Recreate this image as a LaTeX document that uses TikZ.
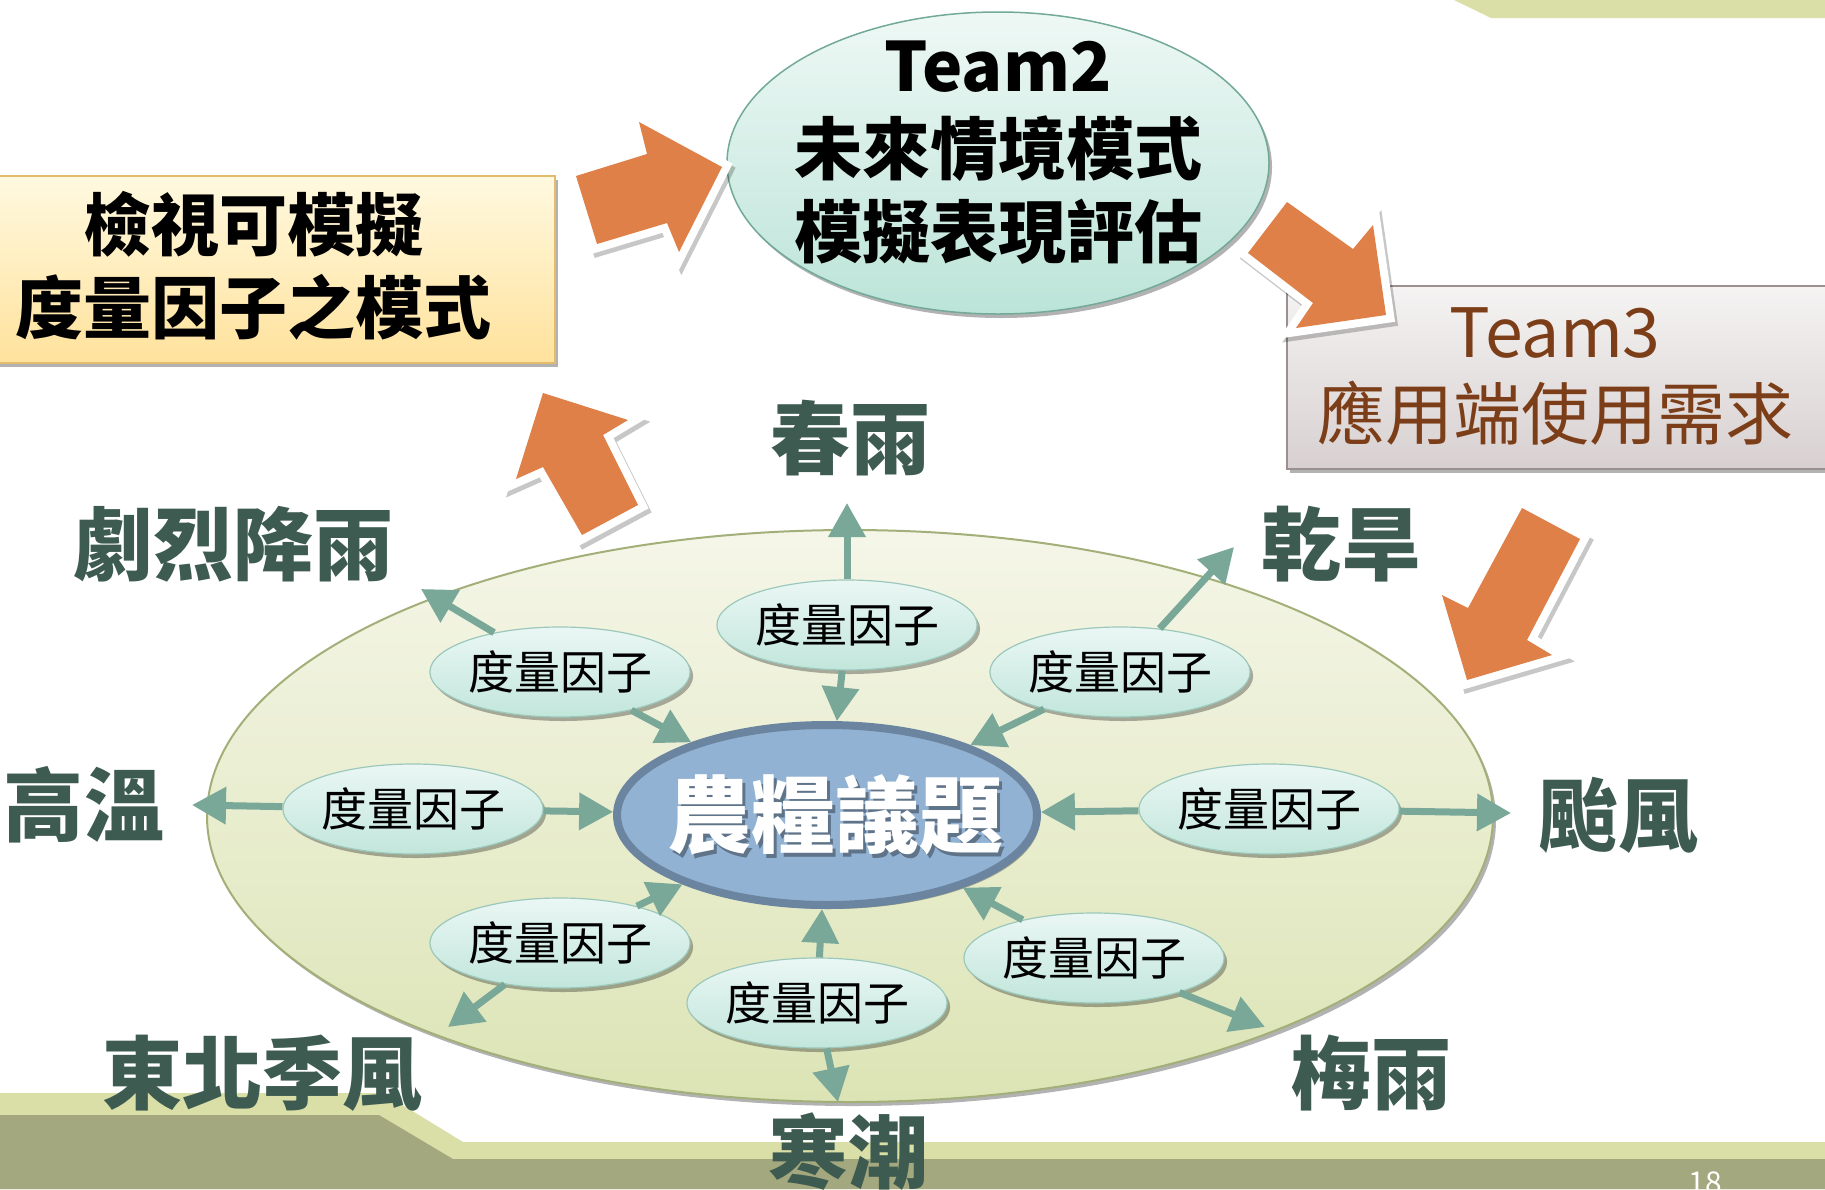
\documentclass[tikz,border=0pt]{standalone}
\usepackage{fontspec}
\setmainfont{Noto Sans CJK TC}
\usetikzlibrary{shapes.geometric,arrows.meta,shadows}
\definecolor{orng}{HTML}{DF8048}
\definecolor{tealarr}{HTML}{7AA898}
\definecolor{lbl}{HTML}{3D5B50}
\definecolor{cfill}{HTML}{92B2D3}
\definecolor{cline}{HTML}{6B85A0}
\definecolor{brn}{HTML}{7C3E18}
\definecolor{bandl}{HTML}{DADFA8}
\definecolor{bandd}{HTML}{A4A87E}
\definecolor{regtop}{HTML}{F5F6E8}
\definecolor{regbot}{HTML}{DCE4B5}
\definecolor{regline}{HTML}{A2AF78}
\definecolor{factop}{HTML}{EAF7F4}
\definecolor{facbot}{HTML}{C2E6DB}
\definecolor{facline}{HTML}{9CC8BC}
\definecolor{ttop}{HTML}{EEF8F5}
\definecolor{tbot}{HTML}{BCE4D8}
\definecolor{tline}{HTML}{72A999}
\definecolor{ytop}{HTML}{FFF9E0}
\definecolor{ybot}{HTML}{FFE29C}
\definecolor{yline}{HTML}{E2BC6C}
\definecolor{gtop}{HTML}{F5F3F3}
\definecolor{gbot}{HTML}{D8D0D0}
\definecolor{gline}{HTML}{9B9090}
\begin{document}
\begin{tikzpicture}[x=1pt,y=-1pt,
  shad/.style={drop shadow={shadow xshift=3pt,shadow yshift=-4pt,opacity=0.3,fill=black}},
  factor/.style={ellipse, minimum width=254pt, minimum height=90pt, inner sep=0pt,
    draw=facline, line width=1.2pt, top color=factop, bottom color=facbot, shad,
    font=\fontsize{46}{50}\selectfont},
  outlbl/.style={text=lbl, font=\bfseries\fontsize{80}{90}\selectfont, inner sep=0pt},
  tarr/.style={draw=tealarr, line width=7pt, -{Triangle[length=34pt,width=36pt]}},
  oarrow/.style={draw=white, line width=16pt, line join=miter, fill=white,
    preaction={draw=black, fill=black, line width=16pt, line join=miter, opacity=0.22,
      transform canvas={shift={(3pt,-4pt)}}},
    postaction={fill=orng, draw=none}}
]
\useasboundingbox (0,0) rectangle (1825,1189);
\fill[white] (0,0) rectangle (1825,1189);
% background bands
\fill[bandl] (1454,0) -- (1491,18) -- (1825,18) -- (1825,0) -- cycle;
\fill[bandl] (0,1093) -- (383,1093) -- (463,1142) -- (1825,1142) -- (1825,1189) -- (0,1189) -- cycle;
\fill[bandd] (0,1115) -- (379,1115) -- (453,1159) -- (1825,1159) -- (1825,1189) -- (0,1189) -- cycle;
\node[text=white, font=\fontsize{30}{30}\selectfont, anchor=north, inner sep=0pt] (pagenum) at (1705,1172) {18};

% big region
\node[ellipse, minimum width=1286pt, minimum height=572pt, inner sep=0pt, draw=regline,
  line width=2pt, top color=regtop, bottom color=regbot, shad] (region) at (850,816) {};

% top boxes
\node[ellipse, minimum width=542pt, minimum height=302pt, inner sep=0pt, draw=tline,
  line width=1.5pt, top color=ttop, bottom color=tbot, shad] (team2) at (998,163) {};
\node[align=center, font=\bfseries\fontsize{68}{83}\selectfont, inner sep=0pt] (team2txt) at (998,153)
  {Team2\\未來情境模式\\模擬表現評估};

\node[rectangle, minimum width=562pt, minimum height=187pt, anchor=north west, inner sep=0pt,
  draw=yline, line width=2pt, top color=ytop, bottom color=ybot, shad] (evalbox) at (-8,175) {};
\node[align=center, font=\bfseries\fontsize{68}{83}\selectfont, inner sep=0pt] (evaltxt) at (253,266)
  {檢視可模擬\\度量因子之模式};

\node[rectangle, minimum width=545pt, minimum height=183pt, anchor=north west, inner sep=0pt,
  draw=gline, line width=2pt, top color=gtop, bottom color=gbot, shad] (team3) at (1286,285) {};
\node[align=center, text=brn, font=\fontsize{68}{82}\selectfont, inner sep=0pt] (team3txt) at (1555,376)
  {Team3\\應用端使用需求};

% orange block arrows
\path[oarrow] (576,176) -- (647,154) -- (639,122) -- (722,167) -- (679,252) -- (667,223) -- (597,244) -- cycle;
\path[oarrow] (1287,202) -- (1353,249) -- (1373,225) -- (1386,315) -- (1296,328) -- (1313,303) -- (1248,253) -- cycle;
\path[oarrow] (1522,508) -- (1580,539) -- (1527,640) -- (1552,655) -- (1467,680) -- (1442,595) -- (1468,608) -- cycle;
\path[oarrow] (543,393) -- (628,420) -- (603,435) -- (638,505) -- (582,535) -- (543,467) -- (516,479) -- cycle;

% core
\node[ellipse, minimum width=420pt, minimum height=180pt, inner sep=0pt, fill=cfill,
  draw=cline, line width=8pt, shad] (core) at (827,815) {};
\node[text=black, opacity=0.35, font=\bfseries\fontsize{84}{90}\selectfont, inner sep=0pt] (coreshadow) at (838,819) {農糧議題};
\node[text=white, font=\bfseries\fontsize{84}{90}\selectfont, inner sep=0pt] (coretxt) at (835,815) {農糧議題};

% factor ellipses
\node[factor] (f1) at (560,672) {度量因子};
\node[factor] (f2) at (847,625) {度量因子};
\node[factor] (f3) at (1120,672) {度量因子};
\node[factor] (f4) at (413,809) {度量因子};
\node[factor] (f5) at (1269,809) {度量因子};
\node[factor] (f6) at (560,943) {度量因子};
\node[factor] (f7) at (817,1003) {度量因子};
\node[factor] (f8) at (1094,958) {度量因子};

% outward targets
\coordinate (o1) at (421,589);
\coordinate (o2) at (847,503);
\coordinate (o3) at (1234,547);
\coordinate (o4) at (192,805);
\coordinate (o5) at (1511,813);
\coordinate (o6) at (448,1027);
\coordinate (o7) at (838,1102);
\coordinate (o8) at (1265,1027);

% teal arrows
\foreach \i in {1,...,8}{
  \draw[tarr] (f\i) -- (o\i);
  \draw[tarr] (f\i) -- (core);
}

% outer labels
\node[outlbl] (spring) at (850,438) {春雨};
\node[outlbl] (heavy) at (233,544) {劇烈降雨};
\node[outlbl] (drought) at (1341,544) {乾旱};
\node[outlbl] (heat) at (84,805) {高溫};
\node[outlbl] (typhoon) at (1618,815) {颱風};
\node[outlbl] (monsoon) at (262,1073) {東北季風};
\node[outlbl] (plum) at (1371,1073) {梅雨};
\node[outlbl] (cold) at (848,1152) {寒潮};
\end{tikzpicture}
\end{document}
